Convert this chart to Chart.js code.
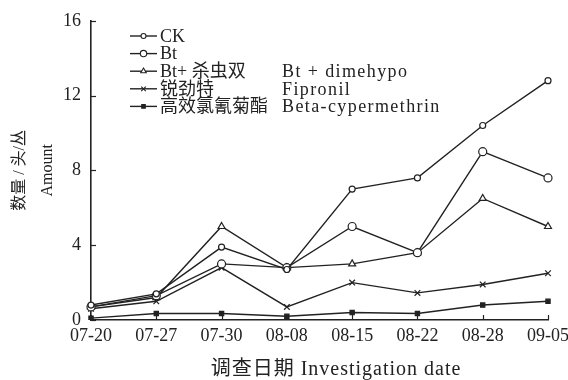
<!DOCTYPE html>
<html>
<head>
<meta charset="utf-8">
<script src="https://cdn.jsdelivr.net/npm/chart.js@4.4.1/dist/chart.umd.min.js"></script>
<style>
  html, body { margin: 0; padding: 0; background: #fff; }
  #wrap { width: 568px; height: 380px; position: relative; }
</style>
</head>
<body>
<div id="wrap"><canvas id="c" width="568" height="380"></canvas></div>
<script>
// Survey dates and pest counts (头/丛) per treatment
const dates = ['07-20', '07-27', '07-30', '08-08', '08-15', '08-22', '08-28', '09-05'];
const ckValues = [0.8, 1.4, 3.9, 2.7, 7.0, 7.6, 10.4, 12.8];
const btValues = [0.7, 1.3, 3.0, 2.8, 5.0, 3.6, 9.0, 7.6];
const btDimehypoValues = [0.7, 1.2, 5.0, 2.8, 3.0, 3.6, 6.5, 5.0];
const fipronilValues = [0.6, 1.0, 2.8, 0.7, 2.0, 1.45, 1.9, 2.5];
const betaCypermethrinValues = [0.1, 0.35, 0.35, 0.2, 0.4, 0.35, 0.8, 1.0];
const yTicks = [0, 4, 8, 12, 16];

const namesZh = ['CK', 'Bt', 'Bt+ 杀虫双', '锐劲特', '高效氯氰菊酯'];
const namesEn = ['', '', 'Bt + dimehypo', 'Fipronil', 'Beta-cypermethrin'];
const xTitle = '调查日期 Investigation date';

const SERIF = '"Liberation Serif", "Noto Sans CJK SC", serif';
const INK = '#222';

function series(label, data, style, radius, fill) {
  return {
    label, data,
    borderColor: INK, borderWidth: 1.4,
    pointStyle: style, pointRadius: radius,
    pointBackgroundColor: fill ? INK : '#fff',
    pointBorderColor: INK, pointBorderWidth: 1.2,
    tension: 0, fill: false
  };
}

const datasets = [
  series(namesZh[0], ckValues, 'circle', 3, false),
  series(namesZh[1], btValues, 'circle', 4, false),
  series(namesZh[2], btDimehypoValues, 'triangle', 4, false),
  series(namesZh[3], fipronilValues, 'crossRot', 4, false),
  series(namesZh[4], betaCypermethrinValues, 'rect', 3, true)
];

// Inward tick marks, the two-column legend inside the plot, and the x-axis caption
const decor = {
  id: 'decor',
  afterDraw(chart) {
    const { ctx, scales: { x, y }, chartArea: a } = chart;
    ctx.save();
    ctx.strokeStyle = INK;
    ctx.lineWidth = 1.2;
    yTicks.forEach(v => {
      const py = Math.round(y.getPixelForValue(v)) + 0.5;
      ctx.beginPath(); ctx.moveTo(a.left, py); ctx.lineTo(a.left + 5, py); ctx.stroke();
    });
    dates.forEach((d, i) => {
      const px = Math.round(x.getPixelForValue(i)) + 0.5;
      ctx.beginPath(); ctx.moveTo(px, a.bottom); ctx.lineTo(px, a.bottom - 5); ctx.stroke();
    });

    const x0 = 130, x1 = 157, rowY0 = 36, rowH = 17.6;
    ctx.font = '18px ' + SERIF;
    ctx.textBaseline = 'middle';
    datasets.forEach((ds, i) => {
      const ry = rowY0 + i * rowH;
      ctx.strokeStyle = INK;
      ctx.beginPath(); ctx.lineWidth = 1.4;
      ctx.moveTo(x0, ry); ctx.lineTo(x1, ry); ctx.stroke();
      ctx.lineWidth = 1.1;
      ctx.fillStyle = ds.pointBackgroundColor;
      Chart.helpers.drawPoint(ctx, {
        pointStyle: ds.pointStyle, radius: Math.max(2.5, ds.pointRadius - 0.8),
        rotation: 0, borderWidth: 1.1
      }, (x0 + x1) / 2, ry);
      ctx.fillStyle = INK;
      ctx.letterSpacing = '0px';
      ctx.fillText(namesZh[i], x1 + 3, ry + 1);
      if (namesEn[i]) {
        ctx.letterSpacing = '1.4px';
        ctx.fillText(namesEn[i], 282, ry + 1);
      }
    });

    ctx.font = '20px ' + SERIF;
    ctx.letterSpacing = '1px';
    ctx.textAlign = 'center';
    ctx.fillText(xTitle, 336, 370);
    ctx.restore();
  }
};

new Chart(document.getElementById('c'), {
  type: 'line',
  data: { labels: dates, datasets },
  options: {
    responsive: false,
    animation: false,
    layout: { padding: { top: 12, right: 20, left: 5, bottom: 0 } },
    plugins: { legend: { display: false }, tooltip: { enabled: false } },
    scales: {
      x: {
        type: 'category', offset: false,
        grid: { display: false, drawTicks: false },
        border: { display: true, color: INK, width: 1.6 },
        ticks: { color: INK, font: { family: SERIF, size: 18 }, padding: 5, maxRotation: 0, autoSkip: false },
        afterFit(s) { s.height = 60; s.paddingRight = 0; s.paddingLeft = 0; }
      },
      y: {
        min: 0, max: 16,
        afterBuildTicks(s) { s.ticks = yTicks.map(v => ({ value: v })); },
        grid: { display: false, drawTicks: false },
        border: { display: true, color: INK, width: 1.6 },
        ticks: { color: INK, font: { family: SERIF, size: 18 }, padding: 10 },
        title: { display: true, text: ['数量 / 头/丛', 'Amount'], color: INK, font: { family: SERIF, size: 16, lineHeight: 1.8 }, padding: 0 },
        afterFit(s) { s.width = 86; }
      }
    }
  },
  plugins: [decor]
});
</script>
</body>
</html>
